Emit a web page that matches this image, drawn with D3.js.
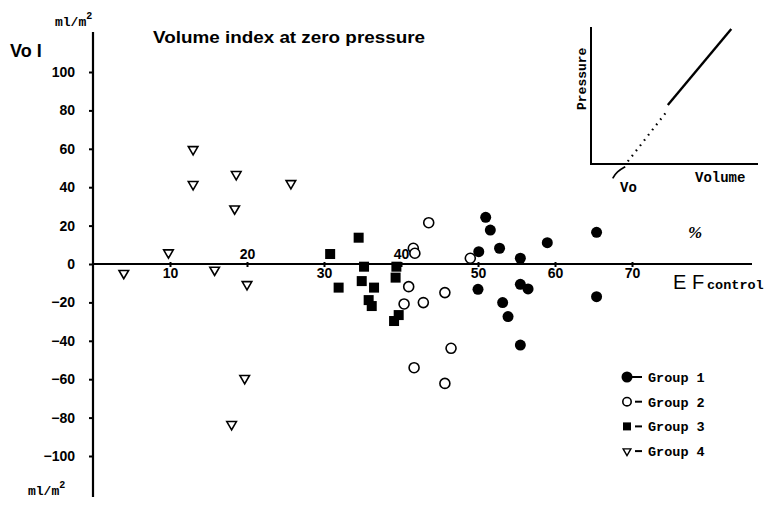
<!DOCTYPE html>
<html>
<head>
<meta charset="utf-8">
<script src="https://cdn.jsdelivr.net/npm/d3@7"></script>
<style>
  body { margin: 0; background: #fff; }
  svg { display: block; }
  text { fill: #000; }
</style>
</head>
<body>
<svg width="766" height="507"></svg>
<script>
// EF control (%) vs Vo I (ml/m2)
var group1 = [[51.0,24.3],[51.6,17.7],[50.1,6.4],[52.8,8.2],[55.5,3.0],[59.0,11.1],[65.4,16.5],
              [50.0,-13.2],[55.5,-10.6],[56.5,-13.0],[53.2,-20.1],[53.9,-27.4],[55.5,-42.2],[65.4,-17.0]];
var group2 = [[43.6,21.5],[41.6,8.2],[41.8,5.6],[49.0,3.0],[41.0,-11.8],[45.7,-14.9],[40.4,-20.8],
              [42.9,-20.1],[46.5,-43.9],[41.7,-54.0],[45.7,-62.2]];
var group3 = [[30.8,5.2],[34.5,13.7],[35.2,-1.4],[31.9,-12.3],[34.9,-8.9],[36.5,-12.3],[35.8,-18.8],
              [36.2,-21.9],[39.4,-1.4],[39.3,-7.1],[39.7,-26.6],[39.1,-29.7]];
var group4 = [[4.0,-4.8],[9.8,5.9],[13.0,59.7],[13.0,41.5],[15.8,-3.1],[18.6,46.7],[18.4,28.8],
              [20.0,-10.6],[25.7,42],[19.7,-59.5],[18.0,-83.5]];

var xTicks = [10, 20, 30, 40, 50, 60, 70];
var xTicksAbove = [20, 40];
var yTicks = [100, 80, 60, 40, 20, 0, -20, -40, -60, -80, -100];
var legendLabels = ["Group 1", "Group 2", "Group 3", "Group 4"];

// inset schematic (arbitrary units 0..10)
var insetSolid = [[4.6, 4.3], [8.4, 9.85]];
var insetDotted = [[4.45, 3.7], [2.15, 0.1]];
var insetArrow = [[1.3, -1.05], [1.55, -0.55], [2.05, -0.2]];

var svg = d3.select("svg");
var font = "'Liberation Sans', Arial, sans-serif";
var mono = "'Liberation Mono', 'DejaVu Sans Mono', monospace";

var x = d3.scaleLinear().domain([0, 70]).range([93, 632]);
var y = d3.scaleLinear().domain([0, 100]).range([264, 72]);

// axes lines
svg.append("line").attr("x1", x(0)).attr("x2", x(0))
  .attr("y1", 32).attr("y2", 497).attr("stroke", "#000").attr("stroke-width", 2.2);
svg.append("line").attr("x1", x(0)).attr("x2", 752)
  .attr("y1", y(0)).attr("y2", y(0)).attr("stroke", "#000").attr("stroke-width", 2);

// y axis ticks
var yAxis = svg.append("g")
  .attr("transform", "translate(" + x(0) + ",0)")
  .call(d3.axisLeft(y).tickValues(yTicks).tickSize(4).tickPadding(14));
yAxis.select(".domain").remove();
yAxis.selectAll(".tick line").attr("stroke-width", 2);
yAxis.selectAll(".tick text")
  .attr("font-family", font).attr("font-weight", "bold").attr("font-size", 14);

// x axis ticks
var xAxis = svg.append("g")
  .attr("transform", "translate(0," + y(0) + ")")
  .call(d3.axisBottom(x).tickValues(xTicks).tickSize(3).tickPadding(3));
xAxis.select(".domain").remove();
xAxis.selectAll(".tick line").attr("stroke-width", 2).attr("y1", -2);
xAxis.selectAll(".tick text")
  .attr("font-family", font).attr("font-weight", "bold").attr("font-size", 14)
  .attr("dy", "0.71em")
  .attr("y", function(d) { return xTicksAbove.indexOf(d) >= 0 ? -15 : 4; });

// axis labels
svg.append("text").attr("x", 10).attr("y", 57)
  .attr("font-family", font).attr("font-weight", "bold").attr("font-size", 18).text("Vo I");
var unitTop = svg.append("text").attr("x", 55).attr("y", 26)
  .attr("font-family", mono).attr("font-weight", "bold").attr("font-size", 13);
unitTop.append("tspan").text("ml/m");
unitTop.append("tspan").attr("dy", -7).attr("font-size", 10).text("2");
var unitBot = svg.append("text").attr("x", 28).attr("y", 495)
  .attr("font-family", mono).attr("font-weight", "bold").attr("font-size", 13);
unitBot.append("tspan").text("ml/m");
unitBot.append("tspan").attr("dy", -7).attr("font-size", 10).text("2");

svg.append("text").attr("x", 153).attr("y", 43)
  .attr("font-family", font).attr("font-size", 17).attr("font-weight", "bold")
  .attr("textLength", 272).attr("lengthAdjust", "spacingAndGlyphs")
  .text("Volume index at zero pressure");

var ef = svg.append("text").attr("x", 673).attr("y", 289);
ef.append("tspan").attr("font-family", font).attr("font-size", 20).text("E F");
ef.append("tspan").attr("x", 707).attr("font-family", mono).attr("font-weight", "bold")
  .attr("font-size", 13.5).text("control");

svg.append("text").attr("x", 688).attr("y", 238)
  .attr("font-family", "'Liberation Serif', serif").attr("font-weight", "bold")
  .attr("font-style", "italic").attr("font-size", 17).text("%");

// markers
var tri = d3.symbol().type(d3.symbolTriangle).size(40);
function triPath() { return tri(); }

svg.append("g").selectAll("circle").data(group1).join("circle")
  .attr("cx", function(d) { return x(d[0]); })
  .attr("cy", function(d) { return y(d[1]); })
  .attr("r", 5.5).attr("fill", "#000");

svg.append("g").selectAll("circle").data(group2).join("circle")
  .attr("cx", function(d) { return x(d[0]); })
  .attr("cy", function(d) { return y(d[1]); })
  .attr("r", 5).attr("fill", "#fff").attr("stroke", "#000").attr("stroke-width", 1.6);

svg.append("g").selectAll("rect").data(group3).join("rect")
  .attr("x", function(d) { return x(d[0]) - 5; })
  .attr("y", function(d) { return y(d[1]) - 5; })
  .attr("width", 10).attr("height", 10).attr("fill", "#000");

svg.append("g").selectAll("path").data(group4).join("path")
  .attr("d", triPath)
  .attr("transform", function(d) { return "translate(" + x(d[0]) + "," + y(d[1]) + ") rotate(180)"; })
  .attr("fill", "#fff").attr("stroke", "#000").attr("stroke-width", 1.6);

// legend
var leg = svg.append("g").attr("transform", "translate(627,377)");
var rows = leg.selectAll("g").data(legendLabels).join("g")
  .attr("transform", function(d, i) { return "translate(0," + (i * 24.7) + ")"; });
rows.append("line").attr("x1", function(d, i) { return i == 0 ? 4 : 8; }).attr("x2", 15)
  .attr("stroke", "#000").attr("stroke-width", 2);
rows.each(function(d, i) {
  var r = d3.select(this);
  if (i == 0) r.append("circle").attr("r", 5.5).attr("fill", "#000");
  if (i == 1) r.append("circle").attr("r", 4.2).attr("fill", "#fff").attr("stroke", "#000").attr("stroke-width", 1.6);
  if (i == 2) r.append("rect").attr("x", -4).attr("y", -4).attr("width", 8).attr("height", 8).attr("fill", "#000");
  if (i == 3) r.append("path").attr("d", d3.symbol().type(d3.symbolTriangle).size(26)())
    .attr("transform", "rotate(180)").attr("fill", "#fff").attr("stroke", "#000").attr("stroke-width", 1.4);
});
rows.append("text").attr("x", 21).attr("y", 5)
  .attr("font-family", mono).attr("font-weight", "bold").attr("font-size", 13.5)
  .text(function(d) { return d; });

// inset schematic
var ix = d3.scaleLinear().domain([0, 10]).range([591, 758]);
var iy = d3.scaleLinear().domain([0, 10]).range([164, 27]);
var iline = d3.line().x(function(d) { return ix(d[0]); }).y(function(d) { return iy(d[1]); });
svg.append("path").attr("d", "M" + ix(0) + "," + iy(10) + "V" + iy(0) + "H" + ix(10))
  .attr("fill", "none").attr("stroke", "#000").attr("stroke-width", 2);
svg.append("path").datum(insetSolid).attr("d", iline)
  .attr("fill", "none").attr("stroke", "#000").attr("stroke-width", 2.4);
svg.append("path").datum(insetDotted).attr("d", iline)
  .attr("fill", "none").attr("stroke", "#000").attr("stroke-width", 2.2)
  .attr("stroke-dasharray", "1.6,5");
svg.append("path").datum(insetArrow).attr("d", iline.curve(d3.curveBasis))
  .attr("fill", "none").attr("stroke", "#000").attr("stroke-width", 1.6);
svg.append("text").attr("x", 586).attr("y", 110).attr("transform", "rotate(-90,586,110)")
  .attr("font-family", mono).attr("font-weight", "bold").attr("font-size", 13).text("Pressure");
svg.append("text").attr("x", 695).attr("y", 182)
  .attr("font-family", mono).attr("font-weight", "bold").attr("font-size", 14).text("Volume");
svg.append("text").attr("x", 620).attr("y", 192)
  .attr("font-family", mono).attr("font-weight", "bold").attr("font-size", 14).text("Vo");
</script>
</body>
</html>
